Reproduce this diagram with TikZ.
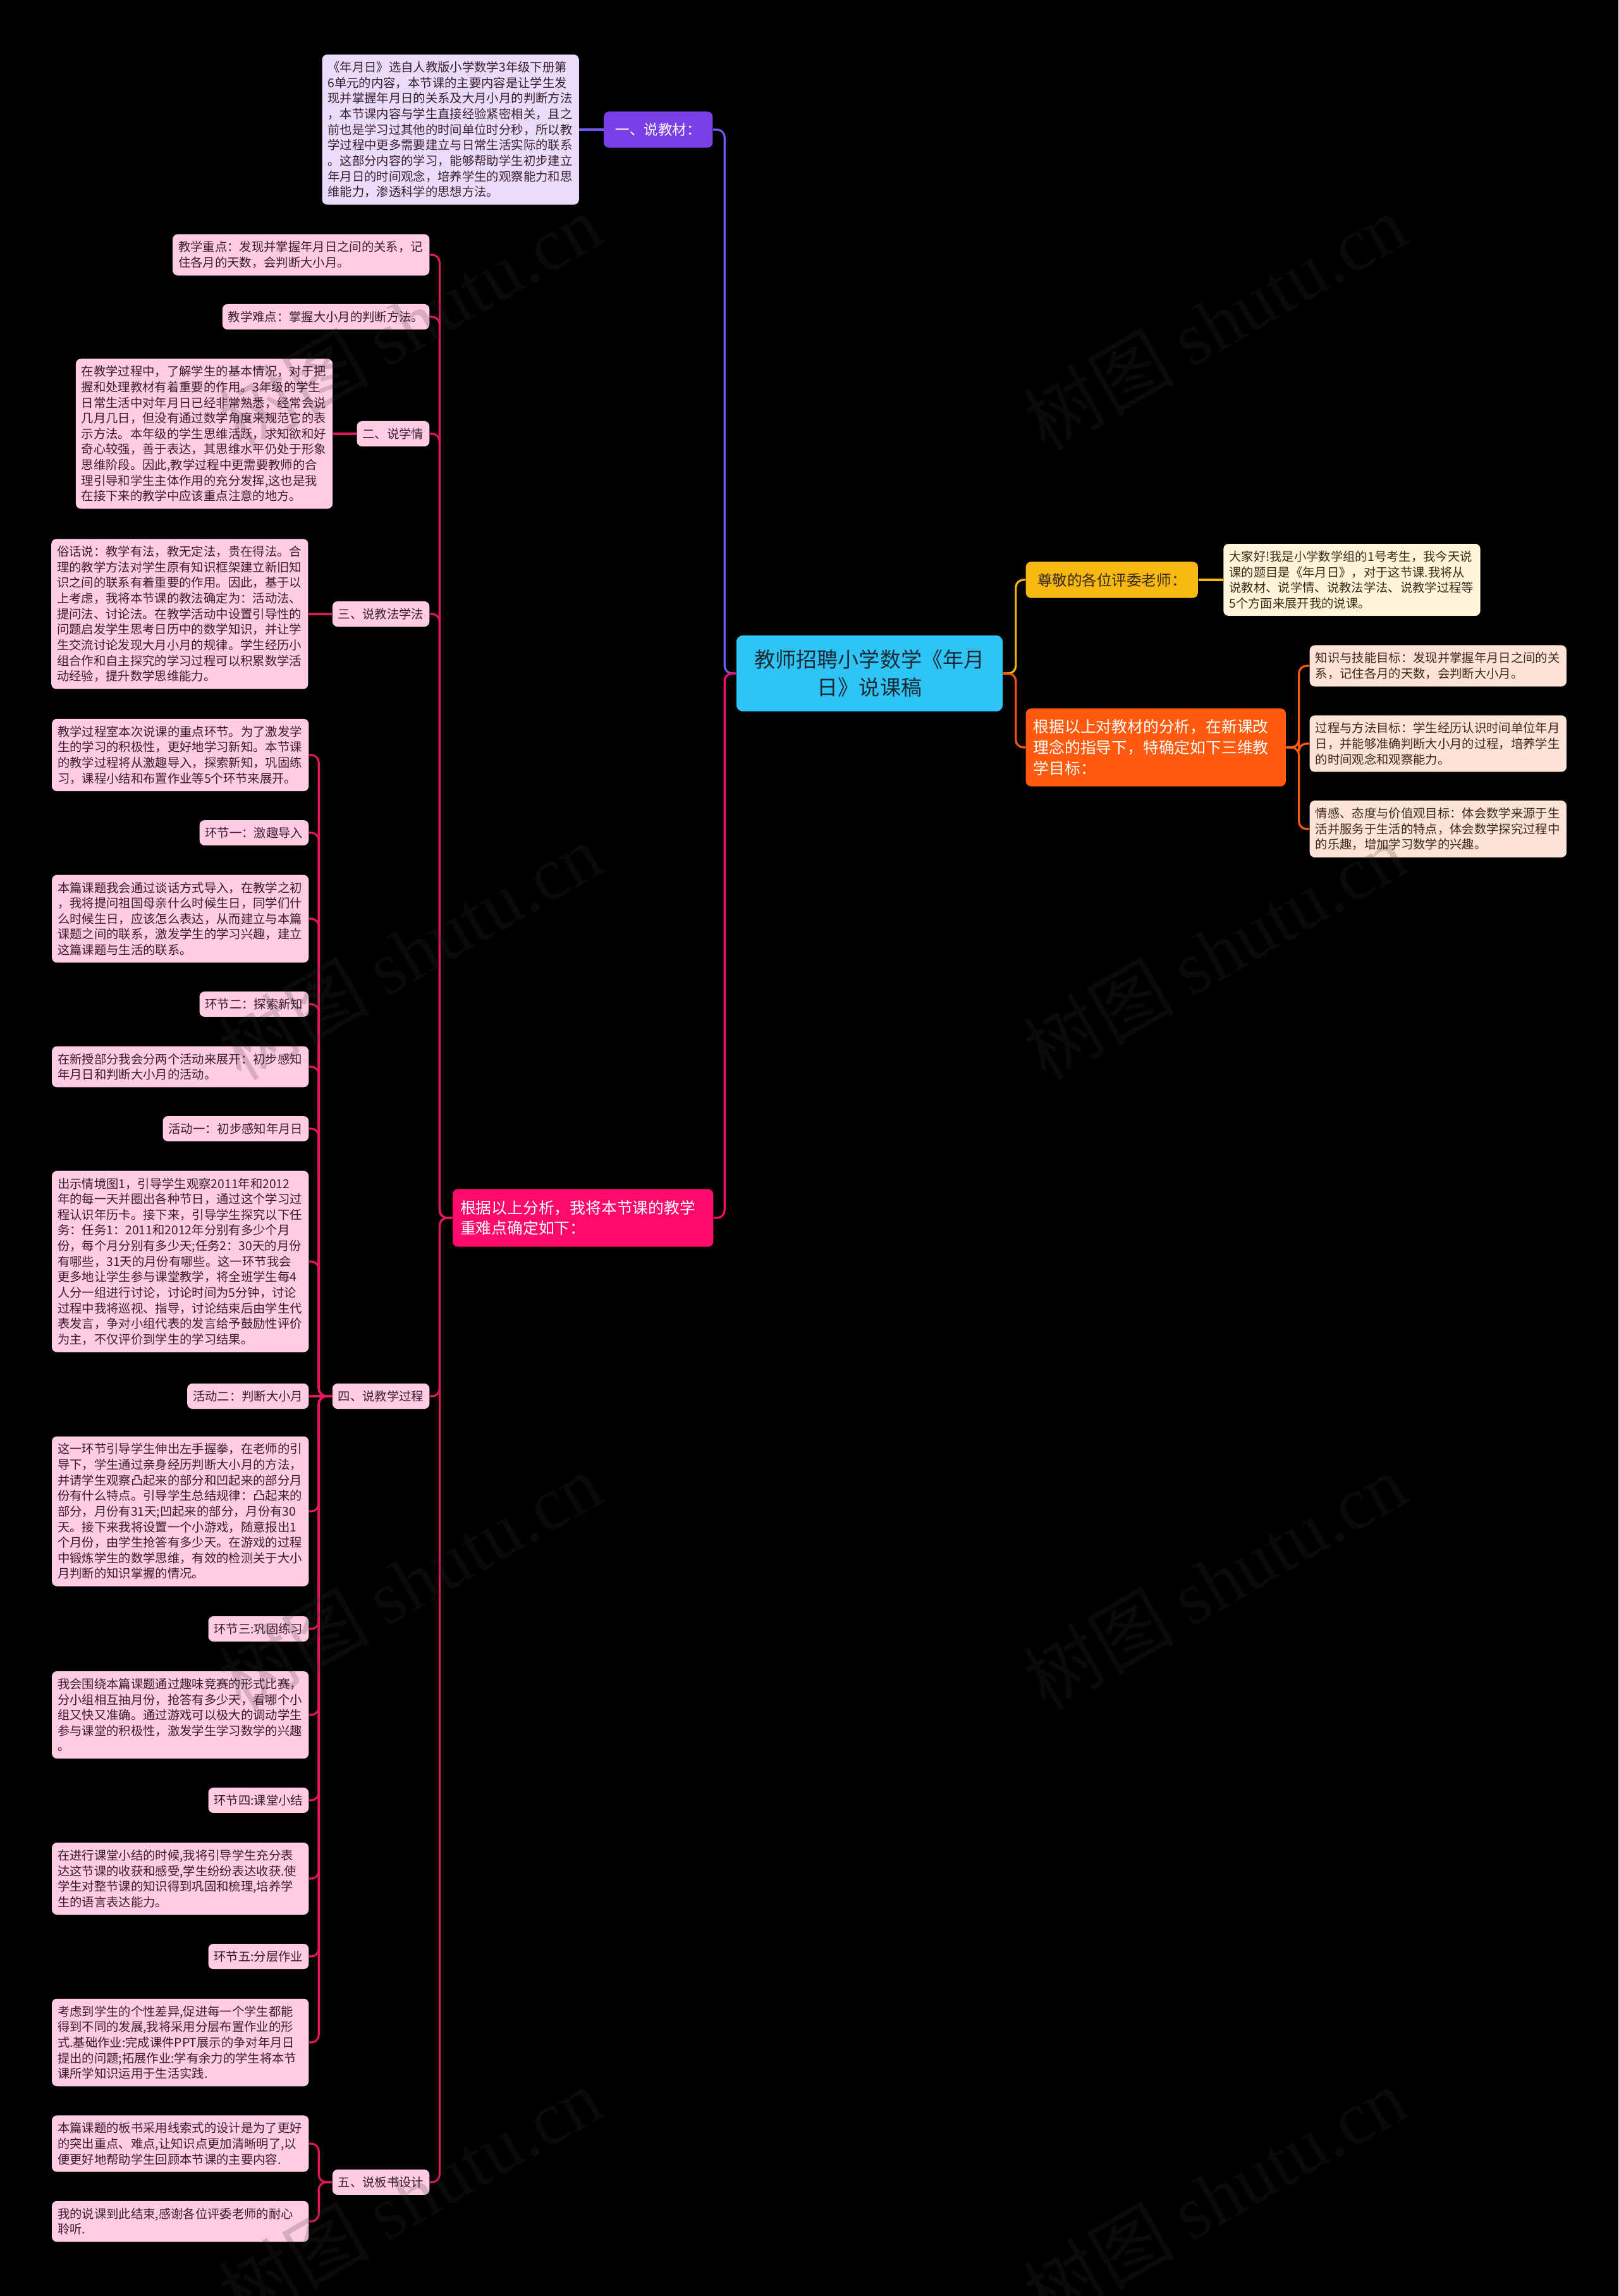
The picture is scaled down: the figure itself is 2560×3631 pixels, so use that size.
\documentclass[tikz,border=0pt]{standalone}
\usepackage{fontspec}
\setmainfont{Noto Sans CJK SC}
\newfontfamily\wmserif{Liberation Serif}
\usepackage{tikz}
\usetikzlibrary{positioning}
\definecolor{mmRoot}{HTML}{2EC4F5}
\definecolor{mmRootInk}{HTML}{1C2A36}
\definecolor{mmPurple}{HTML}{7A3FE6}
\definecolor{mmViolet}{HTML}{6F5CF4}
\definecolor{mmLavender}{HTML}{E9DCFB}
\definecolor{mmMagenta}{HTML}{FF0A6A}
\definecolor{mmRose}{HTML}{E3165F}
\definecolor{mmPink}{HTML}{FFCCE4}
\definecolor{mmGold}{HTML}{F7B80F}
\definecolor{mmCream}{HTML}{FFF5D8}
\definecolor{mmOrange}{HTML}{FF5A0E}
\definecolor{mmPeach}{HTML}{FDE3D6}
\definecolor{mmInk}{HTML}{3A1E2A}
\definecolor{mmBrown}{HTML}{3A2A1C}
\definecolor{mmMark}{HTML}{333333}
\tikzset{
  mmnode/.style={
    rounded corners=0.8mm, align=left, inner xsep=0.09cm, inner ysep=0.11cm,
    font=\fontsize{5.5}{7}\selectfont
  },
  leaf/.style={mmnode, text width=3.88cm},
  pinkleaf/.style={leaf, fill=mmPink, text=mmInk},
  pinktag/.style={mmnode, fill=mmPink, text=mmInk},
  lavleaf/.style={leaf, fill=mmLavender, text=mmInk},
  creamleaf/.style={leaf, fill=mmCream, text=mmBrown},
  peachleaf/.style={leaf, fill=mmPeach, text=mmBrown},
  rootnode/.style={
    rounded corners=1mm, fill=mmRoot, text=mmRootInk, align=center,
    minimum width=4.21cm, minimum height=1.2cm, font=\fontsize{9.4}{12.5}\selectfont
  },
  purplenode/.style={
    rounded corners=0.8mm, fill=mmPurple, text=white, minimum width=1.72cm,
    minimum height=0.57cm, font=\fontsize{6.4}{7.5}\selectfont
  },
  magnode/.style={
    rounded corners=0.8mm, fill=mmMagenta, text=white, align=left, text width=3.88cm,
    inner xsep=0.12cm, minimum height=0.91cm, font=\fontsize{7.05}{9}\selectfont
  },
  goldnode/.style={
    rounded corners=0.8mm, fill=mmGold, text=mmBrown, minimum width=2.72cm,
    minimum height=0.57cm, inner xsep=0.13cm, font=\fontsize{6.7}{8}\selectfont
  },
  orangenode/.style={
    rounded corners=0.8mm, fill=mmOrange, text=white, align=left, text width=3.87cm,
    inner xsep=0.12cm, minimum height=1.23cm, font=\fontsize{7.05}{9.4}\selectfont
  },
  link/.style={line width=0.9pt, rounded corners=1.2mm},
  violetline/.style={link, mmViolet},
  magline/.style={link, mmMagenta},
  roseline/.style={link, mmRose},
  goldline/.style={link, mmGold},
  orangeline/.style={link, mmOrange},
  watermark/.style={rotate=30, text=mmMark, opacity=0.2, font=\fontsize{34}{34}\selectfont}
}

\begin{document}
\begin{tikzpicture}[x=0.01cm, y=-0.01cm]
  \useasboundingbox (0,0) rectangle (2560,3631);
  \fill[black] (0,0) rectangle (2560,3631);

  % centre
  \node[rootnode] (root) at (1375.5,1065) {教师招聘小学数学《年月\\日》说课稿};

  % upper left branch
  \node[purplenode, anchor=east] (jiaocai) at (1128,205) {一、说教材：};
  \node[lavleaf, left=0.38cm of jiaocai] (nyrbox) {《年月日》选自人教版小学数学3年级下册第\\6单元的内容，本节课的主要内容是让学生发\\现并掌握年月日的关系及大月小月的判断方法\\，本节课内容与学生直接经验紧密相关，且之\\前也是学习过其他的时间单位时分秒，所以教\\学过程中更多需要建立与日常生活实际的联系\\。这部分内容的学习，能够帮助学生初步建立\\年月日的时间观念，培养学生的观察能力和思\\维能力，渗透科学的思想方法。};

  % lower left branch
  \node[magnode, anchor=east] (genju) at (1129,1926) {根据以上分析，我将本节课的教学\\重难点确定如下：};
  \node[pinkleaf, anchor=east] (zhongdian) at (680,403) {教学重点：发现并掌握年月日之间的关系，记\\住各月的天数，会判断大小月。};
  \node[pinktag, anchor=east] (nandian) at (680,501) {教学难点：掌握大小月的判断方法。};
  \node[pinktag, anchor=east] (xueqing) at (680,686) {二、说学情};
  \node[pinkleaf, left=0.37cm of xueqing] (xqbox) {在教学过程中，了解学生的基本情况，对于把\\握和处理教材有着重要的作用。3年级的学生\\日常生活中对年月日已经非常熟悉，经常会说\\几月几日，但没有通过数学角度来规范它的表\\示方法。本年级的学生思维活跃，求知欲和好\\奇心较强，善于表达，其思维水平仍处于形象\\思维阶段。因此,教学过程中更需要教师的合\\理引导和学生主体作用的充分发挥,这也是我\\在接下来的教学中应该重点注意的地方。};
  \node[pinktag, anchor=east] (jiaofa) at (680,971) {三、说教法学法};
  \node[pinkleaf, left=0.37cm of jiaofa] (jfbox) {俗话说：教学有法，教无定法，贵在得法。合\\理的教学方法对学生原有知识框架建立新旧知\\识之间的联系有着重要的作用。因此，基于以\\上考虑，我将本节课的教法确定为：活动法、\\提问法、讨论法。在教学活动中设置引导性的\\问题启发学生思考日历中的数学知识，并让学\\生交流讨论发现大月小月的规律。学生经历小\\组合作和自主探究的学习过程可以积累数学活\\动经验，提升数学思维能力。};
  \node[pinktag, anchor=east] (guocheng) at (680,2208) {四、说教学过程};
  \node[pinktag, anchor=east] (banshu) at (680,3451) {五、说板书设计};

  % teaching process
  \node[pinkleaf, anchor=east] (gcintro) at (489,1194) {教学过程室本次说课的重点环节。为了激发学\\生的学习的积极性，更好地学习新知。本节课\\的教学过程将从激趣导入，探索新知，巩固练\\习，课程小结和布置作业等5个环节来展开。};
  \node[pinktag, anchor=east] (hj1) at (489,1317) {环节一：激趣导入};
  \node[pinkleaf, anchor=east] (hj1box) at (489,1453) {本篇课题我会通过谈话方式导入，在教学之初\\，我将提问祖国母亲什么时候生日，同学们什\\么时候生日，应该怎么表达，从而建立与本篇\\课题之间的联系，激发学生的学习兴趣，建立\\这篇课题与生活的联系。};
  \node[pinktag, anchor=east] (hj2) at (489,1588) {环节二：探索新知};
  \node[pinkleaf, anchor=east] (hj2box) at (489,1687) {在新授部分我会分两个活动来展开：初步感知\\年月日和判断大小月的活动。};
  \node[pinktag, anchor=east] (hd1) at (489,1785) {活动一：初步感知年月日};
  \node[pinkleaf, anchor=east] (hd1box) at (489,1995) {出示情境图1，引导学生观察2011年和2012\\年的每一天并圈出各种节日，通过这个学习过\\程认识年历卡。接下来，引导学生探究以下任\\务：任务1：2011和2012年分别有多少个月\\份，每个月分别有多少天;任务2：30天的月份\\有哪些，31天的月份有哪些。这一环节我会\\更多地让学生参与课堂教学，将全班学生每4\\人分一组进行讨论，讨论时间为5分钟，讨论\\过程中我将巡视、指导，讨论结束后由学生代\\表发言，争对小组代表的发言给予鼓励性评价\\为主，不仅评价到学生的学习结果。};
  \node[pinktag, anchor=east] (hd2) at (489,2208) {活动二：判断大小月};
  \node[pinkleaf, anchor=east] (hd2box) at (489,2390) {这一环节引导学生伸出左手握拳，在老师的引\\导下，学生通过亲身经历判断大小月的方法，\\并请学生观察凸起来的部分和凹起来的部分月\\份有什么特点。引导学生总结规律：凸起来的\\部分，月份有31天;凹起来的部分，月份有30\\天。接下来我将设置一个小游戏，随意报出1\\个月份，由学生抢答有多少天。在游戏的过程\\中锻炼学生的数学思维，有效的检测关于大小\\月判断的知识掌握的情况。};
  \node[pinktag, anchor=east] (hj3) at (489,2576) {环节三:巩固练习};
  \node[pinkleaf, anchor=east] (hj3box) at (489,2712) {我会围绕本篇课题通过趣味竞赛的形式比赛，\\分小组相互抽月份，抢答有多少天，看哪个小\\组又快又准确。通过游戏可以极大的调动学生\\参与课堂的积极性，激发学生学习数学的兴趣\\。};
  \node[pinktag, anchor=east] (hj4) at (489,2847) {环节四:课堂小结};
  \node[pinkleaf, anchor=east] (hj4box) at (489,2971) {在进行课堂小结的时候,我将引导学生充分表\\达这节课的收获和感受,学生纷纷表达收获.使\\学生对整节课的知识得到巩固和梳理,培养学\\生的语言表达能力。};
  \node[pinktag, anchor=east] (hj5) at (489,3094) {环节五:分层作业};
  \node[pinkleaf, anchor=east] (hj5box) at (489,3230) {考虑到学生的个性差异,促进每一个学生都能\\得到不同的发展,我将采用分层布置作业的形\\式.基础作业:完成课件PPT展示的争对年月日\\提出的问题;拓展作业:学有余力的学生将本节\\课所学知识运用于生活实践.};

  % board design
  \node[pinkleaf, anchor=east] (bsbox) at (489,3390) {本篇课题的板书采用线索式的设计是为了更好\\的突出重点、难点,让知识点更加清晰明了,以\\便更好地帮助学生回顾本节课的主要内容.};
  \node[pinkleaf, anchor=east] (endbox) at (489,3513) {我的说课到此结束,感谢各位评委老师的耐心\\聆听.};

  % right side
  \node[goldnode, anchor=west] (zunjing) at (1622,917) {尊敬的各位评委老师：};
  \node[creamleaf, right=0.39cm of zunjing] (dajia) {大家好!我是小学数学组的1号考生，我今天说\\课的题目是《年月日》，对于这节课.我将从\\说教材、说学情、说教法学法、说教学过程等\\5个方面来展开我的说课。};
  \node[orangenode, anchor=west] (mubiao) at (1622,1182) {根据以上对教材的分析，在新课改\\理念的指导下，特确定如下三维教\\学目标：};
  \node[peachleaf, anchor=west] (mbzhishi) at (2071,1053) {知识与技能目标：发现并掌握年月日之间的关\\系，记住各月的天数，会判断大小月。};
  \node[peachleaf, anchor=west] (mbguocheng) at (2071,1176) {过程与方法目标：学生经历认识时间单位年月\\日，并能够准确判断大小月的过程，培养学生\\的时间观念和观察能力。};
  \node[peachleaf, anchor=west] (mbqinggan) at (2071,1311) {情感、态度与价值观目标：体会数学来源于生\\活并服务于生活的特点，体会数学探究过程中\\的乐趣，增加学习数学的兴趣。};

  % connectors, left
  \draw[violetline] (root.west) -- ++(-18,0) |- (jiaocai.east);
  \draw[violetline] (jiaocai.west) -- (nyrbox.east);
  \draw[magline] (root.west) -- ++(-18,0) |- (genju.east);
  \draw[roseline] (genju.west) -- ++(-20,0) |- (zhongdian.east);
  \draw[roseline] (genju.west) -- ++(-20,0) |- (nandian.east);
  \draw[roseline] (genju.west) -- ++(-20,0) |- (xueqing.east);
  \draw[roseline] (genju.west) -- ++(-20,0) |- (jiaofa.east);
  \draw[roseline] (genju.west) -- ++(-20,0) |- (guocheng.east);
  \draw[roseline] (genju.west) -- ++(-20,0) |- (banshu.east);
  \draw[roseline] (xueqing.west) -- (xqbox.east);
  \draw[roseline] (jiaofa.west) -- (jfbox.east);
  \draw[roseline] (guocheng.west) -- ++(-21,0) |- (gcintro.east);
  \draw[roseline] (guocheng.west) -- ++(-21,0) |- (hj1.east);
  \draw[roseline] (guocheng.west) -- ++(-21,0) |- (hj1box.east);
  \draw[roseline] (guocheng.west) -- ++(-21,0) |- (hj2.east);
  \draw[roseline] (guocheng.west) -- ++(-21,0) |- (hj2box.east);
  \draw[roseline] (guocheng.west) -- ++(-21,0) |- (hd1.east);
  \draw[roseline] (guocheng.west) -- ++(-21,0) |- (hd1box.east);
  \draw[roseline] (guocheng.west) -- (hd2.east);
  \draw[roseline] (guocheng.west) -- ++(-21,0) |- (hd2box.east);
  \draw[roseline] (guocheng.west) -- ++(-21,0) |- (hj3.east);
  \draw[roseline] (guocheng.west) -- ++(-21,0) |- (hj3box.east);
  \draw[roseline] (guocheng.west) -- ++(-21,0) |- (hj4.east);
  \draw[roseline] (guocheng.west) -- ++(-21,0) |- (hj4box.east);
  \draw[roseline] (guocheng.west) -- ++(-21,0) |- (hj5.east);
  \draw[roseline] (guocheng.west) -- ++(-21,0) |- (hj5box.east);
  \draw[roseline] (banshu.west) -- ++(-21,0) |- (bsbox.east);
  \draw[roseline] (banshu.west) -- ++(-21,0) |- (endbox.east);

  % connectors, right
  \draw[goldline] (root.east) -- ++(20,0) |- (zunjing.west);
  \draw[goldline] (zunjing.east) -- (dajia.west);
  \draw[orangeline] (root.east) -- ++(20,0) |- (mubiao.west);
  \draw[orangeline] (mubiao.east) -- ++(20,0) |- (mbzhishi.west);
  \draw[orangeline] (mubiao.east) -- ++(20,0) |- (mbguocheng.west);
  \draw[orangeline] (mubiao.east) -- ++(20,0) |- (mbqinggan.west);

  % watermarks
  \node[watermark] (wm1) at (648,509) {树图 {\wmserif shutu.cn}};
  \node[watermark] (wm2) at (1921,509) {树图 {\wmserif shutu.cn}};
  \node[watermark] (wm3) at (648,1504) {树图 {\wmserif shutu.cn}};
  \node[watermark] (wm4) at (1921,1504) {树图 {\wmserif shutu.cn}};
  \node[watermark] (wm5) at (648,2500) {树图 {\wmserif shutu.cn}};
  \node[watermark] (wm6) at (1921,2500) {树图 {\wmserif shutu.cn}};
  \node[watermark] (wm7) at (648,3472) {树图 {\wmserif shutu.cn}};
  \node[watermark] (wm8) at (1921,3472) {树图 {\wmserif shutu.cn}};
\end{tikzpicture}
\end{document}
